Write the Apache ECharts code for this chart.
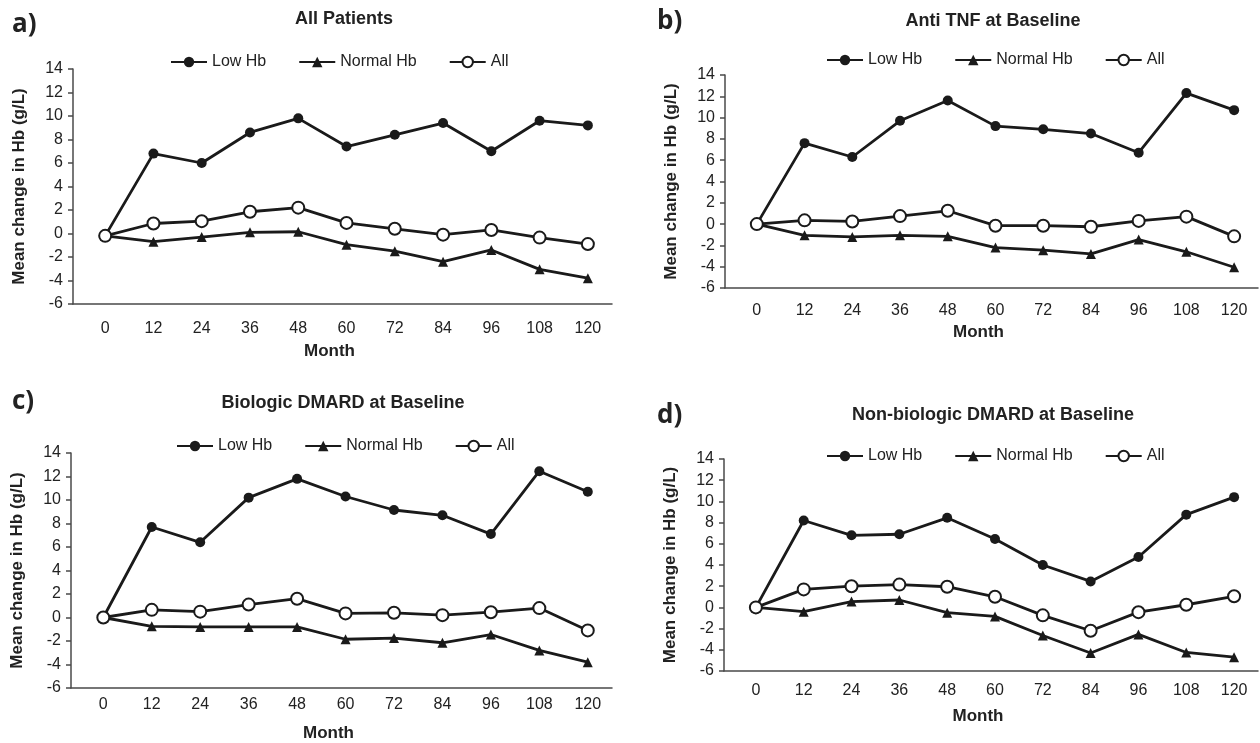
<!DOCTYPE html>
<html>
<head>
<meta charset="utf-8">
<script src="https://cdn.jsdelivr.net/npm/echarts@6/dist/echarts.min.js"></script>
<style>
  html, body { margin: 0; padding: 0; background: #fff; }
  #chart { width: 1260px; height: 743px; }
</style>
</head>
<body>
<div id="chart"></div>
<script>
// months on the x axis
const months = [0, 12, 24, 36, 48, 60, 72, 84, 96, 108, 120];
const yTicks = [-6, -4, -2, 0, 2, 4, 6, 8, 10, 12, 14];
const seriesNames = ["Low Hb", "Normal Hb", "All"];

// a) All Patients
const lowA = [-0.2, 6.8, 6.0, 8.6, 9.8, 7.4, 8.4, 9.4, 7.0, 9.6, 9.2];
const normalA = [-0.2, -0.7, -0.3, 0.1, 0.15, -0.95, -1.5, -2.4, -1.4, -3.05, -3.8];
const allA = [-0.2, 0.85, 1.05, 1.85, 2.2, 0.9, 0.4, -0.1, 0.3, -0.35, -0.9];

// b) Anti TNF at Baseline
const lowB = [0, 7.6, 6.3, 9.7, 11.6, 9.2, 8.9, 8.5, 6.7, 12.3, 10.7];
const normalB = [0, -1.05, -1.2, -1.05, -1.15, -2.2, -2.45, -2.8, -1.45, -2.6, -4.05];
const allB = [0, 0.35, 0.25, 0.75, 1.25, -0.15, -0.15, -0.25, 0.3, 0.7, -1.15];

// c) Biologic DMARD at Baseline
const lowC = [0, 7.7, 6.4, 10.2, 11.8, 10.3, 9.15, 8.7, 7.1, 12.45, 10.7];
const normalC = [0, -0.75, -0.8, -0.8, -0.8, -1.85, -1.75, -2.15, -1.45, -2.8, -3.8];
const allC = [0, 0.65, 0.5, 1.1, 1.6, 0.35, 0.4, 0.2, 0.45, 0.8, -1.1];

// d) Non-biologic DMARD at Baseline
const lowD = [0, 8.2, 6.8, 6.9, 8.45, 6.45, 4.0, 2.45, 4.75, 8.75, 10.4];
const normalD = [0, -0.4, 0.55, 0.7, -0.5, -0.85, -2.65, -4.3, -2.55, -4.25, -4.7];
const allD = [0, 1.7, 2.0, 2.15, 1.95, 1.0, -0.75, -2.2, -0.45, 0.25, 1.05];

const panels = [
  { letter: "a)", title: "All Patients", low: lowA, normal: normalA, all: allA,
    grid: { left: 73, top: 69, width: 539, height: 235 }, labelMargin: 17, monthGap: 39,
    titleX: 344, titleY: 19, letterX: 12, letterY: 25, legendLeft: 170, legendY: 54 },
  { letter: "b)", title: "Anti TNF at Baseline", low: lowB, normal: normalB, all: allB,
    grid: { left: 725, top: 75, width: 533, height: 213 }, labelMargin: 15, monthGap: 36,
    titleX: 993, titleY: 21, letterX: 657, letterY: 22, legendLeft: 826, legendY: 52 },
  { letter: "c)", title: "Biologic DMARD at Baseline", low: lowC, normal: normalC, all: allC,
    grid: { left: 71, top: 453, width: 541, height: 235 }, labelMargin: 9, monthGap: 37,
    titleX: 343, titleY: 403, letterX: 12, letterY: 402, legendLeft: 176, legendY: 438 },
  { letter: "d)", title: "Non-biologic DMARD at Baseline", low: lowD, normal: normalD, all: allD,
    grid: { left: 724, top: 459, width: 534, height: 212 }, labelMargin: 12, monthGap: 37,
    titleX: 993, titleY: 415, letterX: 657, letterY: 416, legendLeft: 826, legendY: 448 }
];

const INK = "#1a1a1a";
const AXIS = "#4a4a4a";
const FONT = "'Liberation Sans', Arial, sans-serif";

const pairs = (vals) => months.map((m, i) => [m, vals[i]]);

const grids = [];
const xAxes = [];
const yAxes = [];
const series = [];
const legends = [];
const graphics = [];

panels.forEach((p, idx) => {
  grids.push(p.grid);

  xAxes.push({
    gridIndex: idx,
    type: "value",
    min: -8,
    max: 126,
    name: "Month",
    nameLocation: "middle",
    nameGap: p.monthGap,
    nameTextStyle: { fontFamily: FONT, fontWeight: "bold", fontSize: 17, color: "#222", padding: [0, 26, 0, 0] },
    axisLine: { onZero: false, lineStyle: { color: AXIS, width: 1.5 } },
    axisTick: { show: false },
    splitLine: { show: false },
    axisLabel: { customValues: months, margin: p.labelMargin, fontFamily: FONT, fontSize: 16, color: "#222" }
  });

  yAxes.push({
    gridIndex: idx,
    type: "value",
    min: yTicks[0],
    max: yTicks[yTicks.length - 1],
    interval: 2,
    name: "Mean change in Hb (g/L)",
    nameLocation: "middle",
    nameGap: 45,
    nameTextStyle: { fontFamily: FONT, fontWeight: "bold", fontSize: 17, color: "#222" },
    axisLine: { show: true, onZero: false, lineStyle: { color: AXIS, width: 1.5 } },
    axisTick: { show: true, inside: false, length: 5, lineStyle: { color: AXIS, width: 1.5 } },
    splitLine: { show: false },
    axisLabel: { margin: 10, fontFamily: FONT, fontSize: 16, color: "#222" }
  });

  const common = {
    type: "line",
    xAxisIndex: idx,
    yAxisIndex: idx,
    lineStyle: { color: INK, width: 2.8 },
    animation: false
  };
  series.push({ ...common, name: seriesNames[0], data: pairs(p.low), symbol: "circle", symbolSize: 10,
    itemStyle: { color: INK } });
  series.push({ ...common, name: seriesNames[1], data: pairs(p.normal), symbol: "triangle", symbolSize: 10,
    itemStyle: { color: INK } });
  series.push({ ...common, name: seriesNames[2], data: pairs(p.all), symbol: "circle", symbolSize: 12,
    itemStyle: { color: "#fff", borderColor: INK, borderWidth: 2 } });

  legends.push({
    data: seriesNames,
    left: p.legendLeft,
    top: p.legendY,
    padding: 0,
    itemWidth: 36,
    itemHeight: 13,
    itemGap: 32,
    textStyle: { fontFamily: FONT, fontSize: 16, color: "#222" },
    selectedMode: false
  });

  graphics.push({
    type: "text", x: p.titleX, y: p.titleY,
    style: { text: p.title, fontFamily: FONT, fontWeight: "bold", fontSize: 18, fill: "#222",
      align: "center", verticalAlign: "middle", textAlign: "center", textVerticalAlign: "middle" }
  });
  graphics.push({
    type: "text", x: p.letterX, y: p.letterY,
    style: { text: p.letter, fontFamily: "'Open Sans', Lato, sans-serif", fontWeight: "bold", fontSize: 26, fill: "#222",
      align: "left", verticalAlign: "middle", textAlign: "left", textVerticalAlign: "middle" }
  });
});

const chart = echarts.init(document.getElementById("chart"));
chart.setOption({
  animation: false,
  backgroundColor: "#fff",
  grid: grids,
  xAxis: xAxes,
  yAxis: yAxes,
  legend: legends,
  series: series,
  graphic: graphics
});
</script>
</body>
</html>
